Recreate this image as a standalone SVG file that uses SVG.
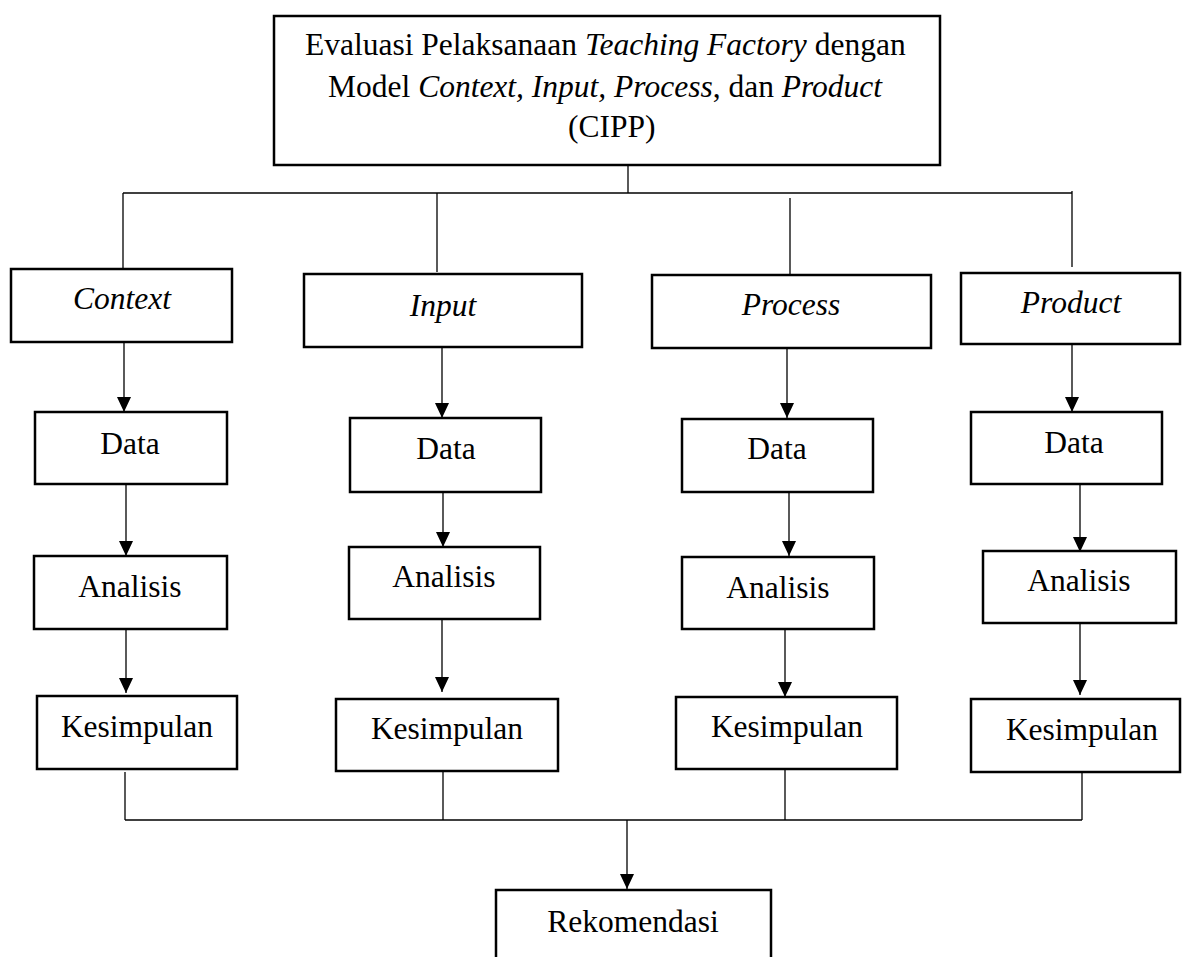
<svg xmlns="http://www.w3.org/2000/svg" width="1182" height="957" viewBox="0 0 1182 957">
<style>
.box{fill:#fff;stroke:#000;stroke-width:2.5}
.ln{fill:none;stroke:#000;stroke-width:1.3}
.t{font-family:"Liberation Serif","Times New Roman",serif;font-size:31.5px;fill:#000}
.c{text-anchor:middle}
.i{font-style:italic}
</style>
<defs>
<marker id="ah" viewBox="0 0 15 14" refX="15" refY="7" markerWidth="15" markerHeight="14" orient="auto" markerUnits="userSpaceOnUse">
<path d="M0,0 L15,7 L0,14 z" fill="#000"/>
</marker>
</defs>
<rect width="1182" height="957" fill="#fff"/>
<g id="connectors">
<line class="ln" x1="628" y1="165" x2="628" y2="193"/>
<line class="ln" x1="123" y1="193" x2="1072" y2="193"/>
<line class="ln" x1="123" y1="193" x2="123" y2="269"/>
<line class="ln" x1="437" y1="193" x2="437" y2="272"/>
<line class="ln" x1="790" y1="198" x2="790" y2="275"/>
<line class="ln" x1="1072" y1="191" x2="1072" y2="267"/>
<line class="ln" x1="124" y1="342" x2="124" y2="412" marker-end="url(#ah)"/>
<line class="ln" x1="126" y1="484" x2="126" y2="556" marker-end="url(#ah)"/>
<line class="ln" x1="126" y1="623" x2="126" y2="693" marker-end="url(#ah)"/>
<line class="ln" x1="442" y1="347" x2="442" y2="418" marker-end="url(#ah)"/>
<line class="ln" x1="443" y1="492" x2="443" y2="547" marker-end="url(#ah)"/>
<line class="ln" x1="442" y1="619" x2="442" y2="692" marker-end="url(#ah)"/>
<line class="ln" x1="787" y1="348" x2="787" y2="418" marker-end="url(#ah)"/>
<line class="ln" x1="789" y1="492" x2="789" y2="556" marker-end="url(#ah)"/>
<line class="ln" x1="785" y1="628" x2="785" y2="697" marker-end="url(#ah)"/>
<line class="ln" x1="1072" y1="344" x2="1072" y2="412" marker-end="url(#ah)"/>
<line class="ln" x1="1080" y1="484" x2="1080" y2="552" marker-end="url(#ah)"/>
<line class="ln" x1="1080" y1="623" x2="1080" y2="695" marker-end="url(#ah)"/>
<line class="ln" x1="125" y1="772" x2="125" y2="820"/>
<line class="ln" x1="443" y1="771" x2="443" y2="820"/>
<line class="ln" x1="785" y1="769" x2="785" y2="820"/>
<line class="ln" x1="1082" y1="772" x2="1082" y2="820"/>
<line class="ln" x1="125" y1="820" x2="1082" y2="820"/>
<line class="ln" x1="627" y1="820" x2="627" y2="889" marker-end="url(#ah)"/>
</g>
<g id="top">
<rect class="box" x="274" y="16" width="666" height="149"/>
<text class="t" x="305" y="55">Evaluasi Pelaksanaan <tspan class="i">Teaching Factory</tspan> dengan</text>
<text class="t" x="328" y="97">Model <tspan class="i">Context, Input, Process</tspan>, dan <tspan class="i">Product</tspan></text>
<text class="t" x="568" y="137">(CIPP)</text>
</g>
<g id="context">
<rect class="box" x="11" y="269" width="221" height="73"/>
<text class="t c i" x="122" y="309">Context</text>
</g>
<g id="input">
<rect class="box" x="304" y="274" width="278" height="73"/>
<text class="t c i" x="443" y="316">Input</text>
</g>
<g id="process">
<rect class="box" x="652" y="275" width="279" height="73"/>
<text class="t c i" x="791" y="315">Process</text>
</g>
<g id="product">
<rect class="box" x="961" y="273" width="219" height="71"/>
<text class="t c i" x="1071" y="313">Product</text>
</g>
<g id="data-context">
<rect class="box" x="35" y="412" width="192" height="72"/>
<text class="t c" x="130" y="454">Data</text>
</g>
<g id="data-input">
<rect class="box" x="350" y="418" width="191" height="74"/>
<text class="t c" x="446" y="459">Data</text>
</g>
<g id="data-process">
<rect class="box" x="682" y="419" width="191" height="73"/>
<text class="t c" x="777" y="459">Data</text>
</g>
<g id="data-product">
<rect class="box" x="971" y="412" width="191" height="72"/>
<text class="t c" x="1074" y="453">Data</text>
</g>
<g id="analisis-context">
<rect class="box" x="34" y="556" width="193" height="73"/>
<text class="t c" x="130" y="597">Analisis</text>
</g>
<g id="analisis-input">
<rect class="box" x="349" y="547" width="191" height="72"/>
<text class="t c" x="444" y="587">Analisis</text>
</g>
<g id="analisis-process">
<rect class="box" x="682" y="557" width="192" height="72"/>
<text class="t c" x="778" y="598">Analisis</text>
</g>
<g id="analisis-product">
<rect class="box" x="983" y="551" width="193" height="72"/>
<text class="t c" x="1079" y="591">Analisis</text>
</g>
<g id="kesimpulan-context">
<rect class="box" x="37" y="696" width="200" height="73"/>
<text class="t c" x="137" y="737">Kesimpulan</text>
</g>
<g id="kesimpulan-input">
<rect class="box" x="336" y="699" width="222" height="72"/>
<text class="t c" x="447" y="739">Kesimpulan</text>
</g>
<g id="kesimpulan-process">
<rect class="box" x="676" y="697" width="221" height="72"/>
<text class="t c" x="787" y="737">Kesimpulan</text>
</g>
<g id="kesimpulan-product">
<rect class="box" x="971" y="699" width="209" height="73"/>
<text class="t c" x="1082" y="740">Kesimpulan</text>
</g>
<g id="rekomendasi">
<rect class="box" x="496" y="890" width="275" height="90"/>
<text class="t c" x="633" y="932">Rekomendasi</text>
</g>
</svg>
